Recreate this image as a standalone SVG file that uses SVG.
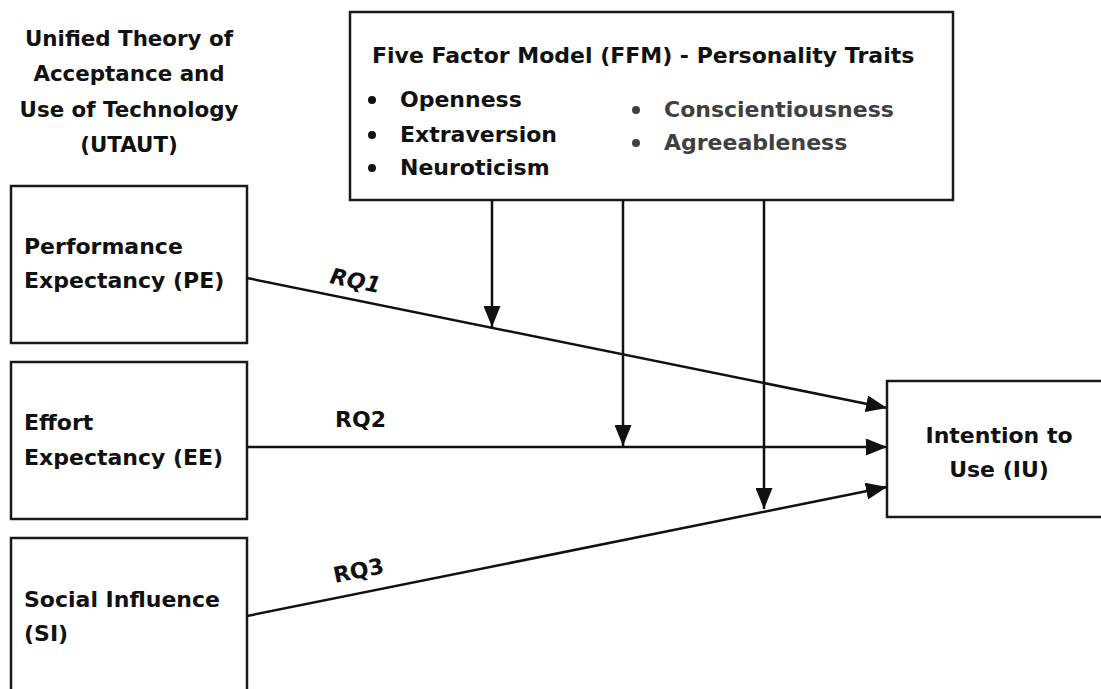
<svg xmlns="http://www.w3.org/2000/svg" width="1101" height="689" viewBox="0 0 1101 689">
<style>
.box{fill:#fff;stroke:#1a1a1a;stroke-width:2.5}
.t{font-family:"DejaVu Sans","Open Sans",sans-serif;font-weight:700;font-size:22px;fill:#111}
.h{font-size:21.4px}
.g{fill:#404040}
.c{text-anchor:middle}
.ln{stroke:#111;stroke-width:2.5;fill:none}
</style>
<defs>
<marker id="ah" markerUnits="userSpaceOnUse" markerWidth="21" markerHeight="17" refX="21" refY="8.5" orient="auto">
<path d="M0,0 L21,8.5 L0,17 Z" fill="#111"/>
</marker>
</defs>
<rect width="1101" height="689" fill="#fff"/>
<g id="utaut-title">
<text class="t h c" x="129" y="46">Unified Theory of</text>
<text class="t h c" x="129" y="81">Acceptance and</text>
<text class="t h c" x="129" y="117">Use of Technology</text>
<text class="t h c" x="129" y="152">(UTAUT)</text>
</g>
<g id="ffm">
<rect class="box" x="350" y="12" width="603" height="188"/>
<text class="t" x="372" y="63">Five Factor Model (FFM) - Personality Traits</text>
<circle cx="372" cy="100" r="4" fill="#111"/>
<text class="t" x="400" y="107">Openness</text>
<circle cx="372" cy="135" r="4" fill="#111"/>
<text class="t" x="400" y="142">Extraversion</text>
<circle cx="372" cy="168" r="4" fill="#111"/>
<text class="t" x="400" y="175">Neuroticism</text>
<circle cx="636" cy="110" r="4" fill="#404040"/>
<text class="t g" x="664" y="117">Conscientiousness</text>
<circle cx="636" cy="143" r="4" fill="#404040"/>
<text class="t g" x="664" y="150">Agreeableness</text>
</g>
<g id="pe">
<rect class="box" x="11" y="186" width="236" height="157"/>
<text class="t" x="24" y="254">Performance</text>
<text class="t" x="24" y="288">Expectancy (PE)</text>
</g>
<g id="ee">
<rect class="box" x="11" y="362" width="236" height="157"/>
<text class="t" x="24" y="430">Effort</text>
<text class="t" x="24" y="465">Expectancy (EE)</text>
</g>
<g id="si">
<rect class="box" x="11" y="538" width="236" height="170"/>
<text class="t" x="24" y="607">Social Influence</text>
<text class="t" x="24" y="641">(SI)</text>
</g>
<g id="iu">
<rect class="box" x="887" y="381" width="230" height="136"/>
<text class="t c" x="999" y="443">Intention to</text>
<text class="t c" x="999" y="477">Use (IU)</text>
</g>
<g id="connectors">
<line class="ln" x1="247" y1="278" x2="887" y2="408" marker-end="url(#ah)"/>
<line class="ln" x1="247" y1="447" x2="887" y2="447" marker-end="url(#ah)"/>
<line class="ln" x1="247" y1="616" x2="887" y2="487" marker-end="url(#ah)"/>
<line class="ln" x1="492" y1="200" x2="492" y2="327" marker-end="url(#ah)"/>
<line class="ln" x1="623" y1="200" x2="623" y2="446" marker-end="url(#ah)"/>
<line class="ln" x1="764" y1="200" x2="764" y2="509" marker-end="url(#ah)"/>
<text class="t" font-style="italic" transform="translate(329,283) rotate(11.5)">RQ1</text>
<text class="t" x="335" y="427">RQ2</text>
<text class="t" transform="translate(335,583) rotate(-11.4)">RQ3</text>
</g>
</svg>
